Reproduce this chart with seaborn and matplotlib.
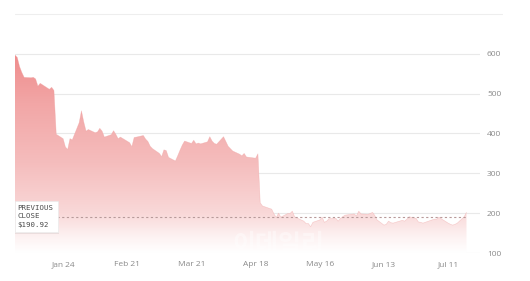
import numpy as np
import pandas as pd
import matplotlib
matplotlib.use("Agg")
import matplotlib.pyplot as plt
import matplotlib.dates as mdates
from matplotlib.colors import LinearSegmentedColormap
from matplotlib.patches import Rectangle
import seaborn as sns

# ---- data ----
dates = pd.to_datetime([
    "2022-01-03","2022-01-04","2022-01-05","2022-01-06","2022-01-07","2022-01-10","2022-01-11","2022-01-12",
    "2022-01-13","2022-01-14","2022-01-18","2022-01-19","2022-01-20","2022-01-21","2022-01-24","2022-01-25",
    "2022-01-26","2022-01-27","2022-01-28","2022-01-31",
    "2022-02-01","2022-02-02","2022-02-03","2022-02-04","2022-02-07","2022-02-08","2022-02-09","2022-02-10",
    "2022-02-11","2022-02-14","2022-02-15","2022-02-16","2022-02-17","2022-02-18","2022-02-22","2022-02-23",
    "2022-02-24","2022-02-25","2022-02-28",
    "2022-03-01","2022-03-02","2022-03-03","2022-03-04","2022-03-07","2022-03-08","2022-03-09","2022-03-10",
    "2022-03-11","2022-03-14","2022-03-15","2022-03-16","2022-03-17","2022-03-18","2022-03-21","2022-03-22",
    "2022-03-23","2022-03-24","2022-03-25","2022-03-28","2022-03-29","2022-03-30","2022-03-31",
    "2022-04-01","2022-04-04","2022-04-05","2022-04-06","2022-04-07","2022-04-08","2022-04-11","2022-04-12",
    "2022-04-13","2022-04-14","2022-04-18","2022-04-19","2022-04-20","2022-04-21","2022-04-22","2022-04-25",
    "2022-04-26","2022-04-27","2022-04-28","2022-04-29",
    "2022-05-02","2022-05-03","2022-05-04","2022-05-05","2022-05-06","2022-05-09","2022-05-10","2022-05-11",
    "2022-05-12","2022-05-13","2022-05-16","2022-05-17","2022-05-18","2022-05-19","2022-05-20","2022-05-23",
    "2022-05-24","2022-05-25","2022-05-26","2022-05-27","2022-05-31",
    "2022-06-01","2022-06-02","2022-06-03","2022-06-06","2022-06-07","2022-06-08","2022-06-09","2022-06-10",
    "2022-06-13","2022-06-14","2022-06-15","2022-06-16","2022-06-17","2022-06-21","2022-06-22","2022-06-23",
    "2022-06-24","2022-06-27","2022-06-28","2022-06-29","2022-06-30",
    "2022-07-01","2022-07-05","2022-07-06","2022-07-07","2022-07-08","2022-07-11","2022-07-12","2022-07-13",
    "2022-07-14","2022-07-15","2022-07-18","2022-07-19",
])
prices = [
    597, 591, 568, 553, 541, 540, 541, 537, 519, 526, 511, 516, 508, 398, 387, 366, 360, 387, 384, 427,
    457, 429, 406, 410, 402, 404, 413, 406, 391, 397, 407, 398, 387, 391, 377, 367, 390, 391, 395,
    386, 380, 368, 362, 350, 342, 359, 357, 340, 331, 344, 358, 371, 381, 375, 383, 374, 376, 374, 379,
    392, 381, 375,
    373, 392, 380, 368, 362, 356, 348, 344, 350, 341, 338, 349, 226, 218, 216, 210, 198, 189, 200, 190,
    199, 199, 205, 191, 188, 180, 174, 174, 166, 177, 183, 190, 177, 180, 186, 187, 180, 187, 191, 195, 198,
    193, 205, 198, 197, 199, 202, 194, 183, 170, 172, 180, 176, 175, 182, 180, 185, 191, 187, 178, 177, 175,
    177, 185, 185, 190, 186, 175, 172, 170, 172, 175, 191, 202,
]
previous_close = 190.92
y_ticks = [100, 200, 300, 400, 500, 600]
x_tick_dates = pd.to_datetime(["2022-01-24", "2022-02-21", "2022-03-21", "2022-04-18",
                               "2022-05-16", "2022-06-13", "2022-07-11"])
x_tick_labels = ["Jan 24", "Feb 21", "Mar 21", "Apr 18", "May 16", "Jun 13", "Jul 11"]
close_label = ["PREVIOUS", "CLOSE", "$190.92"]

df = pd.DataFrame({"date": dates, "price": prices})

# ---- figure ----
sns.set_theme(style="white")
plt.rcParams["font.family"] = ["Open Sans", "DejaVu Sans"]

W, H = 530, 281
fig = plt.figure(figsize=(W / 100, H / 100), dpi=100)
ax = fig.add_axes([15 / W, 1 - 253 / H, (480 - 15) / W, (253 - 14) / H])

x0 = pd.Timestamp("2022-01-03")
x1 = x0 + pd.Timedelta(days=202.9)

# grid lines
for v in y_ticks:
    ax.axhline(v, color="#e9e9e9", lw=0.8, zorder=0)

# gradient area
sns.lineplot(data=df, x="date", y="price", ax=ax, color="#f0a0a0", lw=0.4, alpha=0.5, zorder=3)
poly = ax.fill_between(df["date"], df["price"], 100, color="none", lw=0)
cmap = LinearSegmentedColormap.from_list(
    "g", [(0.0, "#ffffff"), (0.08, "#fdf2f2"), (0.2, "#f9d8d8"), (0.45, "#f5bdbd"),
          (0.75, "#f2a6a6"), (1.0, "#ef8c8c")])
grad = np.linspace(0, 1, 256).reshape(-1, 1)
xl = mdates.date2num([x0, x1])
img = ax.imshow(grad, aspect="auto", cmap=cmap, origin="lower",
                extent=[xl[0], xl[1], 100, 600], zorder=2)
img.set_clip_path(poly.get_paths()[0], transform=ax.transData)
ax.set_xlim(x0, x1)
ax.set_ylim(100, 700)

# previous close line
ax.plot([dates[0], dates[-1]], [previous_close, previous_close], color="#b89a9a",
        lw=0.8, ls=(0, (2, 2.2)), zorder=4)

# watermark
ax.text(mdates.date2num(pd.Timestamp("2022-04-28")), 121, "이데일리", color="white", alpha=0.4,
        fontsize=18, fontweight="bold", ha="center", va="center",
        family=["Noto Sans CJK KR"], zorder=5)

# ticks
ax.set_xticks(x_tick_dates)
ax.set_xticklabels(x_tick_labels)
ax.set_yticks(y_ticks)
ax.yaxis.tick_right()
ax.tick_params(axis="x", length=0, pad=6, labelsize=6, colors="#8a8a8a")
ax.tick_params(axis="y", length=0, pad=5, labelsize=6, colors="#8a8a8a")
ax.set_xlabel("")
ax.set_ylabel("")
for s in ax.spines.values():
    s.set_visible(False)

# top line extended
fig.add_artist(plt.Line2D([15 / W, 502 / W], [1 - 14 / H, 1 - 14 / H], color="#eeeeee", lw=0.8))

# previous close label box
shadow = Rectangle((15 / W, 1 - 234 / H), 44 / W, 33 / H, transform=fig.transFigure,
                   facecolor="#000000", alpha=0.07, edgecolor="none", zorder=6)
fig.add_artist(shadow)
box = Rectangle((15 / W, 1 - 232 / H), 43 / W, 31 / H, transform=fig.transFigure,
                facecolor="white", edgecolor="#eeeeee", lw=0.5, zorder=7)
fig.add_artist(box)
for i, t in enumerate(close_label):
    fig.text(17.5 / W, 1 - (208 + 8.5 * i) / H, t, fontsize=5.3, color="#4a4a4a",
             fontweight="normal", va="center", ha="left", zorder=8,
             family=["DejaVu Sans Mono"])

fig.savefig("out.png", dpi=100, facecolor="white")
